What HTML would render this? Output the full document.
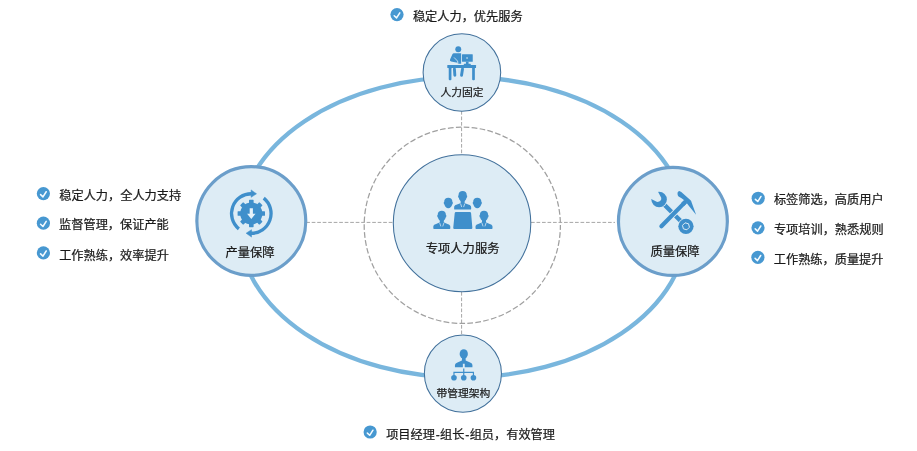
<!DOCTYPE html>
<html lang="zh-CN">
<head>
<meta charset="utf-8">
<title>专项人力服务</title>
<style>
html,body{margin:0;padding:0;background:#fff;}
body{width:917px;height:451px;overflow:hidden;position:relative;font-family:"Liberation Sans","Noto Sans CJK SC",sans-serif;}
svg{position:absolute;left:0;top:0;display:block;will-change:transform;}
text{font-family:"Liberation Sans","Noto Sans CJK SC",sans-serif;fill:#1a1a1a;stroke:#1a1a1a;stroke-width:0.24px;stroke-linejoin:round;}
.lbl{font-size:12.3px;text-anchor:middle;}
.sm{font-size:10.75px;text-anchor:middle;}
.bul{font-size:12.2px;}
</style>
</head>
<body>
<svg width="917" height="451" viewBox="0 0 917 451">
  <defs>
    <g id="chk">
      <circle cx="0" cy="0" r="6.6" fill="#4798d1"/>
      <path d="M-2.8 1.1 L-0.45 3.3 L2.8 -1.8" fill="none" stroke="#f4fbff" stroke-width="1.55" stroke-linecap="round" stroke-linejoin="round"/>
    </g>
  </defs>
  <!-- big ellipse -->
  <ellipse cx="462.9" cy="227.3" rx="223.9" ry="150.1" fill="none" stroke="#79b6dd" stroke-width="4.3"/>
  <!-- dashed guides -->
  <g fill="none" stroke="#a6a6a6" stroke-width="1">
    <circle cx="462.3" cy="225.3" r="98.1" stroke="#a0a0a0" stroke-width="1.25" stroke-dasharray="5.7 2.3" stroke-dashoffset="1"/>
    <g stroke-dasharray="3.7 1.8">
    <line x1="306.2" y1="222.4" x2="393" y2="222.4"/>
    <line x1="531" y1="222.4" x2="615" y2="222.4"/>
    <line x1="461.6" y1="111" x2="461.6" y2="154"/>
    <line x1="461.6" y1="292" x2="461.6" y2="335"/>
    </g>
  </g>
  <!-- nodes -->
  <ellipse cx="462.05" cy="223.25" rx="68.75" ry="68.5" fill="#ddecf5" stroke="#41709b" stroke-width="1.05"/>
  <ellipse cx="461.9" cy="72.5" rx="38.8" ry="38.75" fill="#ddecf5" stroke="#41709b" stroke-width="1.05"/>
  <ellipse cx="462.9" cy="373.55" rx="38.55" ry="38.65" fill="#ddecf5" stroke="#41709b" stroke-width="1.05"/>
  <ellipse cx="251.3" cy="221.0" rx="54.45" ry="54.4" fill="#ddecf5" stroke="#6b9eca" stroke-width="3.2"/>
  <ellipse cx="672.9" cy="221.4" rx="54.45" ry="54.05" fill="#ddecf5" stroke="#6b9eca" stroke-width="3.2"/>

  <!-- icons -->
  <g fill="#3f8fcb"><path transform="translate(448.3 203.0)" d="M0 -5.3 C2.5 -5.3 4.1 -3.7 4.1 -1.3 L4.1 -0.9 C4.5 -0.9 4.6 -0.3 4.5 0.3 C4.4 1 4.2 1.5 3.8 1.6 C3.5 3.6 2 5.3 0 5.3 C-2 5.3 -3.5 3.6 -3.8 1.6 C-4.2 1.5 -4.4 1 -4.5 0.3 C-4.6 -0.3 -4.5 -0.9 -4.1 -0.9 L-4.1 -1.3 C-4.1 -3.7 -2.5 -5.3 0 -5.3Z"/><path transform="translate(477.3 203.0)" d="M0 -5.3 C2.5 -5.3 4.1 -3.7 4.1 -1.3 L4.1 -0.9 C4.5 -0.9 4.6 -0.3 4.5 0.3 C4.4 1 4.2 1.5 3.8 1.6 C3.5 3.6 2 5.3 0 5.3 C-2 5.3 -3.5 3.6 -3.8 1.6 C-4.2 1.5 -4.4 1 -4.5 0.3 C-4.6 -0.3 -4.5 -0.9 -4.1 -0.9 L-4.1 -1.3 C-4.1 -3.7 -2.5 -5.3 0 -5.3Z"/><path transform="translate(462.65 196.35)" d="M0 -5.3 C2.5 -5.3 4.1 -3.7 4.1 -1.3 L4.1 -0.9 C4.5 -0.9 4.6 -0.3 4.5 0.3 C4.4 1 4.2 1.5 3.8 1.6 C3.5 3.6 2 5.3 0 5.3 C-2 5.3 -3.5 3.6 -3.8 1.6 C-4.2 1.5 -4.4 1 -4.5 0.3 C-4.6 -0.3 -4.5 -0.9 -4.1 -0.9 L-4.1 -1.3 C-4.1 -3.7 -2.5 -5.3 0 -5.3Z"/><g transform="translate(462.65 196.65)"><rect x="-2" y="3.5" width="4" height="4"/><path d="M-8.5 12.3 V10.8 C-8.5 9.3 -7.6 8.6 -6.3 8.2 L-2.3 6.6 L-1.6 6.4 L0 6.9 L1.6 6.4 L2.3 6.6 L6.3 8.2 C7.6 8.6 8.5 9.3 8.5 10.8 V12.3 Q8.5 12.95 7.8 12.95 H-7.8 Q-8.5 12.95 -8.5 12.3Z"/><path d="M-2.1 6.9 L-0.95 10.4 M2.1 6.9 L0.95 10.4" stroke="#ddecf5" stroke-width="0.75" fill="none"/></g><path transform="translate(441.8 216.0)" d="M0 -5.3 C2.5 -5.3 4.1 -3.7 4.1 -1.3 L4.1 -0.9 C4.5 -0.9 4.6 -0.3 4.5 0.3 C4.4 1 4.2 1.5 3.8 1.6 C3.5 3.6 2 5.3 0 5.3 C-2 5.3 -3.5 3.6 -3.8 1.6 C-4.2 1.5 -4.4 1 -4.5 0.3 C-4.6 -0.3 -4.5 -0.9 -4.1 -0.9 L-4.1 -1.3 C-4.1 -3.7 -2.5 -5.3 0 -5.3Z"/><g transform="translate(441.8 216.0)"><rect x="-2" y="3.5" width="4" height="4"/><path d="M-8.5 12.3 V10.8 C-8.5 9.3 -7.6 8.6 -6.3 8.2 L-2.3 6.6 L-1.6 6.4 L0 6.9 L1.6 6.4 L2.3 6.6 L6.3 8.2 C7.6 8.6 8.5 9.3 8.5 10.8 V12.3 Q8.5 12.95 7.8 12.95 H-7.8 Q-8.5 12.95 -8.5 12.3Z"/><path d="M-2.1 6.9 L-0.95 10.4 M2.1 6.9 L0.95 10.4" stroke="#ddecf5" stroke-width="0.75" fill="none"/></g><path transform="translate(484.0 216.0)" d="M0 -5.3 C2.5 -5.3 4.1 -3.7 4.1 -1.3 L4.1 -0.9 C4.5 -0.9 4.6 -0.3 4.5 0.3 C4.4 1 4.2 1.5 3.8 1.6 C3.5 3.6 2 5.3 0 5.3 C-2 5.3 -3.5 3.6 -3.8 1.6 C-4.2 1.5 -4.4 1 -4.5 0.3 C-4.6 -0.3 -4.5 -0.9 -4.1 -0.9 L-4.1 -1.3 C-4.1 -3.7 -2.5 -5.3 0 -5.3Z"/><g transform="translate(484.0 216.0)"><rect x="-2" y="3.5" width="4" height="4"/><path d="M-8.5 12.3 V10.8 C-8.5 9.3 -7.6 8.6 -6.3 8.2 L-2.3 6.6 L-1.6 6.4 L0 6.9 L1.6 6.4 L2.3 6.6 L6.3 8.2 C7.6 8.6 8.5 9.3 8.5 10.8 V12.3 Q8.5 12.95 7.8 12.95 H-7.8 Q-8.5 12.95 -8.5 12.3Z"/><path d="M-2.1 6.9 L-0.95 10.4 M2.1 6.9 L0.95 10.4" stroke="#ddecf5" stroke-width="0.75" fill="none"/></g><path d="M456.0 212 H469.8 Q471.0 212 471.1 213.2 L472.35 227.7 Q472.45 229 471.2 229 H454.4 Q453.15 229 453.25 227.7 L454.7 213.2 Q454.8 212 456.0 212Z"/></g>
  <g fill="#3f8fcb"><circle cx="458.26" cy="49.19" r="2.95"/><path d="M453.88 53.26 L461.13 53.26 L461.13 63.68 L457.90 63.68 L457.54 62.85 L451.07 61.41 Q449.39 60.93 450.05 59.49 L452.39 54.34 Q452.93 53.26 453.88 53.26Z"/><path d="M454.06 57.45 L457.54 61.05 L458.02 63.68" fill="none" stroke="#ddecf5" stroke-width="0.8" stroke-linejoin="round"/><rect x="461.97" y="54.28" width="10.78" height="7.49" rx="0.5"/><circle cx="467.06" cy="57.93" r="0.8" fill="#ddecf5"/><rect x="465.92" y="61.65" width="2.64" height="2.64"/><path d="M464.25 63.68 L470.36 63.68 L471.25 65.48 L463.17 65.48Z"/><rect x="447.29" y="65.09" width="28.75" height="2.94" rx="0.5"/><rect x="448.73" y="67.19" width="2.70" height="12.94" rx="1"/><rect x="472.15" y="67.19" width="2.70" height="12.94" rx="1"/><path d="M454.42 68.99 L454.84 75.27 M462.51 68.99 L461.55 75.27" fill="none" stroke="#3f8fcb" stroke-width="2.9" stroke-linecap="round"/></g>
  <g fill="#3f8fcb"><ellipse cx="463.75" cy="353.97" rx="4.1" ry="4.8"/><rect x="461.95" y="356.97" width="3.69" height="4.49"/><path d="M454.96 367.15 V364.95 Q455.16 363.15 457.46 362.46 L461.95 360.46 H465.64 L470.13 362.46 Q472.43 363.15 472.43 364.95 V367.15 H464.74 V363.75 H462.85 V367.15 Z"/><path d="M463.75 368.44 V377.72 M453.97 377.72 V372.34 H473.43 V377.72" fill="none" stroke="#3f8fcb" stroke-width="1.2"/><circle cx="453.97" cy="377.72" r="2.8"/><circle cx="463.75" cy="377.72" r="2.8"/><circle cx="473.43" cy="377.72" r="2.8"/></g>
  <g transform="translate(251.3 213.5)"><circle r="11.1" fill="#3f8fcb"/><rect x="-2.3" y="-13.7" width="4.6" height="4.5" rx="0.6" fill="#3f8fcb" transform="rotate(0)"/><rect x="-2.3" y="-13.7" width="4.6" height="4.5" rx="0.6" fill="#3f8fcb" transform="rotate(45)"/><rect x="-2.3" y="-13.7" width="4.6" height="4.5" rx="0.6" fill="#3f8fcb" transform="rotate(90)"/><rect x="-2.3" y="-13.7" width="4.6" height="4.5" rx="0.6" fill="#3f8fcb" transform="rotate(135)"/><rect x="-2.3" y="-13.7" width="4.6" height="4.5" rx="0.6" fill="#3f8fcb" transform="rotate(180)"/><rect x="-2.3" y="-13.7" width="4.6" height="4.5" rx="0.6" fill="#3f8fcb" transform="rotate(225)"/><rect x="-2.3" y="-13.7" width="4.6" height="4.5" rx="0.6" fill="#3f8fcb" transform="rotate(270)"/><rect x="-2.3" y="-13.7" width="4.6" height="4.5" rx="0.6" fill="#3f8fcb" transform="rotate(315)"/><path d="M-1.6 -5.3 H1.6 V0.2 H4.2 L0 5.6 L-4.2 0.2 H-1.6 Z" fill="#e6f2fa"/><path d="M-12.43 15.35 A19.75 19.75 0 0 1 0.34 -19.75" fill="none" stroke="#3f8fcb" stroke-width="3.3"/><path d="M-0.2 -23.6 L5.2 -19.7 L-0.2 -16.2 Z" fill="#3f8fcb" stroke="#3f8fcb" stroke-width="0.5" stroke-linejoin="round"/><path d="M12.43 -15.35 A19.75 19.75 0 0 1 -0.34 19.75" fill="none" stroke="#3f8fcb" stroke-width="3.3"/><path d="M0.2 23.6 L-5.2 19.7 L0.2 16.2 Z" fill="#3f8fcb" stroke="#3f8fcb" stroke-width="0.5" stroke-linejoin="round"/></g>
  <g><line x1="659.1" y1="199.45" x2="685.95" y2="226.3" stroke="#3f8fcb" stroke-width="4.4"/><circle cx="659.1" cy="199.45" r="8.45" fill="#ddecf5"/><circle cx="685.95" cy="226.3" r="8.35" fill="#ddecf5"/><circle cx="659.1" cy="199.45" r="7.75" fill="#3f8fcb"/><path transform="translate(659.1 199.45)" d="M-1.5 -8.4 L2.1 -1.7 Q2.95 1.8 -1.9 2.45 L-8.4 -0.8 L-9 -9 Z" fill="#ddecf5"/><circle cx="685.95" cy="226.3" r="7.65" fill="#3f8fcb"/><polygon points="689.43,227.23 686.88,229.78 683.40,228.85 682.47,225.37 685.02,222.82 688.50,223.75" fill="none" stroke="#ddecf5" stroke-width="1.0" stroke-linejoin="round"/><line x1="662.6" y1="225.0" x2="684.6" y2="202.6" stroke="#ddecf5" stroke-width="5.8" stroke-linecap="butt"/><line x1="661.4" y1="226.2" x2="684.6" y2="202.6" stroke="#3f8fcb" stroke-width="4.2" stroke-linecap="round"/><line x1="682.6" y1="204.6" x2="685.7" y2="201.5" stroke="#3f8fcb" stroke-width="4.2" stroke-linecap="butt"/><path d="M677.65 194.65 Q676.98 191.66 679.31 190.99 Q680.31 191.19 681.30 192.12 L690.29 200.11 Q691.28 200.97 691.75 202.63 L696.08 214.74 L688.96 205.96 Q686.29 201.97 683.97 199.97 Q681.64 197.98 678.98 196.65 Q677.78 195.98 677.65 194.65Z" fill="#3f8fcb"/></g>

  <!-- labels -->
  <text class="lbl" x="462.6" y="253.1">专项人力服务</text>
  <text class="sm" x="462.1" y="96">人力固定</text>
  <text class="sm" x="463.5" y="397">带管理架构</text>
  <text class="lbl" x="250" y="257">产量保障</text>
  <text class="lbl" x="675" y="256">质量保障</text>

  <!-- bullets -->
  <use href="#chk" x="397.0" y="14.6"/>
  <text class="bul" x="412.9" y="21">稳定人力，优先服务</text>
  <use href="#chk" x="370.15" y="432.0"/>
  <text class="bul" x="386.2" y="439">项目经理<tspan dx="0.8">-</tspan><tspan dx="0.3">组长</tspan><tspan dx="0.8">-</tspan><tspan dx="0.3">组员，有效管理</tspan></text>
  <use href="#chk" x="43.4" y="193.55"/>
  <text class="bul" x="59.3" y="200">稳定人力，全人力支持</text>
  <use href="#chk" x="43.4" y="223.2"/>
  <text class="bul" x="59.1" y="229">监督管理，保证产能</text>
  <use href="#chk" x="43.4" y="252.8"/>
  <text class="bul" x="59.2" y="260">工作熟练，效率提升</text>
  <use href="#chk" x="758.2" y="198.25"/>
  <text class="bul" x="773.9" y="204">标签筛选，高质用户</text>
  <use href="#chk" x="758.0" y="227.8"/>
  <text class="bul" x="773.9" y="234">专项培训，熟悉规则</text>
  <use href="#chk" x="757.9" y="257.3"/>
  <text class="bul" x="773.8" y="264">工作熟练，质量提升</text>
</svg>
</body>
</html>
